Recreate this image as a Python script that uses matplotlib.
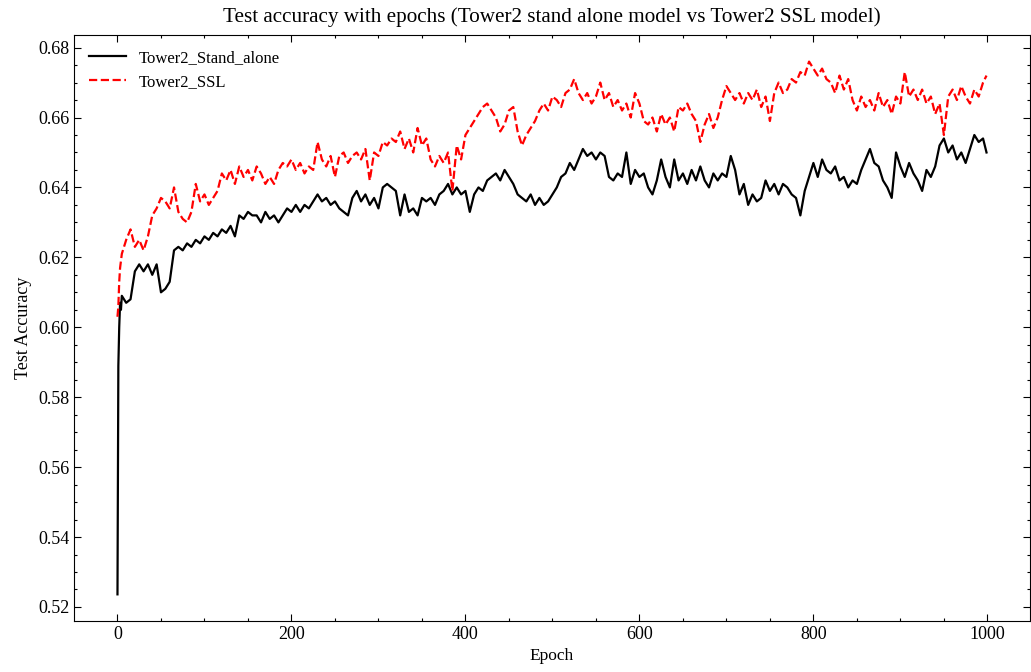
import matplotlib
matplotlib.use("Agg")
import matplotlib.pyplot as plt
from matplotlib.ticker import MultipleLocator

epochs = [0, 1, 2, 3, 4] + list(range(5, 1000, 5)) + [999]

stand_alone = [
    0.5236, 0.589, 0.600, 0.607, 0.605,
    0.609, 0.607, 0.608, 0.616, 0.618, 0.616, 0.618, 0.615, 0.618, 0.610,
    0.611, 0.613, 0.622, 0.623, 0.622, 0.624, 0.623, 0.625, 0.624, 0.626,
    0.625, 0.627, 0.626, 0.628, 0.627, 0.629, 0.626, 0.632, 0.631, 0.633,
    0.632, 0.632, 0.630, 0.633, 0.631, 0.632, 0.630, 0.632, 0.634, 0.633,
    0.635, 0.633, 0.635, 0.634, 0.636, 0.638, 0.636, 0.637, 0.635, 0.636,
    0.634, 0.633, 0.632, 0.637, 0.639, 0.636, 0.638, 0.635, 0.637, 0.634,
    0.640, 0.641, 0.640, 0.639, 0.632, 0.638, 0.633, 0.634, 0.632, 0.637,
    0.636, 0.637, 0.635, 0.638, 0.639, 0.641, 0.638, 0.640, 0.638, 0.639,
    0.633, 0.638, 0.640, 0.639, 0.642, 0.643, 0.644, 0.642, 0.645, 0.643,
    0.641, 0.638, 0.637, 0.636, 0.638, 0.635, 0.637, 0.635, 0.636, 0.638,
    0.640, 0.643, 0.644, 0.647, 0.645, 0.648, 0.651, 0.649, 0.650, 0.648,
    0.650, 0.649, 0.643, 0.642, 0.644, 0.643, 0.650, 0.641, 0.645, 0.643,
    0.644, 0.640, 0.638, 0.642, 0.648, 0.643, 0.640, 0.648, 0.642, 0.644,
    0.641, 0.645, 0.642, 0.646, 0.642, 0.640, 0.644, 0.642, 0.644, 0.643,
    0.649, 0.645, 0.638, 0.641, 0.635, 0.638, 0.636, 0.637, 0.642, 0.639,
    0.641, 0.638, 0.641, 0.640, 0.638, 0.637, 0.632, 0.639, 0.643, 0.647,
    0.643, 0.648, 0.645, 0.644, 0.646, 0.642, 0.643, 0.640, 0.642, 0.641,
    0.645, 0.648, 0.651, 0.647, 0.646, 0.642, 0.640, 0.637, 0.650, 0.646,
    0.643, 0.647, 0.644, 0.642, 0.639, 0.645, 0.643, 0.646, 0.652, 0.654,
    0.650, 0.652, 0.648, 0.650, 0.647, 0.651, 0.655, 0.653, 0.654, 0.650,
]

ssl = [
    0.603, 0.606, 0.613, 0.617, 0.619,
    0.621, 0.625, 0.628, 0.623, 0.625, 0.622, 0.626, 0.632, 0.634, 0.637,
    0.636, 0.634, 0.640, 0.633, 0.631, 0.630, 0.633, 0.641, 0.636, 0.638,
    0.635, 0.637, 0.639, 0.644, 0.642, 0.645, 0.641, 0.646, 0.643, 0.645,
    0.642, 0.646, 0.644, 0.641, 0.643, 0.641, 0.645, 0.647, 0.646, 0.648,
    0.645, 0.647, 0.644, 0.646, 0.645, 0.653, 0.648, 0.646, 0.649, 0.643,
    0.649, 0.650, 0.647, 0.649, 0.650, 0.648, 0.651, 0.642, 0.650, 0.649,
    0.653, 0.652, 0.654, 0.653, 0.656, 0.651, 0.654, 0.650, 0.657, 0.652,
    0.654, 0.648, 0.646, 0.649, 0.647, 0.650, 0.639, 0.652, 0.648, 0.655,
    0.657, 0.659, 0.661, 0.663, 0.664, 0.662, 0.660, 0.656, 0.658, 0.662,
    0.663, 0.656, 0.652, 0.655, 0.657, 0.659, 0.662, 0.664, 0.662, 0.666,
    0.665, 0.663, 0.667, 0.668, 0.671, 0.667, 0.665, 0.667, 0.664, 0.666,
    0.670, 0.665, 0.667, 0.663, 0.665, 0.662, 0.664, 0.660, 0.667, 0.664,
    0.659, 0.658, 0.660, 0.656, 0.661, 0.658, 0.660, 0.656, 0.663, 0.662,
    0.664, 0.661, 0.659, 0.653, 0.658, 0.661, 0.657, 0.660, 0.665, 0.669,
    0.667, 0.665, 0.667, 0.664, 0.667, 0.665, 0.668, 0.663, 0.666, 0.659,
    0.667, 0.670, 0.667, 0.668, 0.671, 0.670, 0.673, 0.672, 0.676, 0.674,
    0.672, 0.674, 0.671, 0.670, 0.667, 0.672, 0.668, 0.671, 0.665, 0.662,
    0.666, 0.663, 0.665, 0.662, 0.667, 0.663, 0.665, 0.661, 0.666, 0.664,
    0.673, 0.666, 0.668, 0.665, 0.668, 0.664, 0.666, 0.661, 0.664, 0.655,
    0.666, 0.668, 0.665, 0.669, 0.666, 0.664, 0.668, 0.666, 0.670, 0.672,
]

labels = ["Tower2_Stand_alone", "Tower2_SSL"]
title = "Test accuracy with epochs (Tower2 stand alone model vs Tower2 SSL model)"

plt.rcParams["font.family"] = ["Liberation Serif", "DejaVu Serif"]

fig = plt.figure(figsize=(10.31, 6.72), dpi=100)
ax = fig.add_axes([0.0718, 0.0759, 0.9272, 0.8721])

ax.plot(epochs, stand_alone, color="black", linestyle="-", linewidth=1.6, label=labels[0])
ax.plot(epochs, ssl, color="red", linestyle="--", linewidth=1.6, label=labels[1])

ax.set_title(title, fontsize=15.2, pad=9.5)
ax.set_xlabel("Epoch", fontsize=12.5)
ax.set_ylabel("Test Accuracy", fontsize=13)

ax.xaxis.set_major_locator(MultipleLocator(200))
ax.xaxis.set_minor_locator(MultipleLocator(50))
ax.yaxis.set_major_locator(MultipleLocator(0.02))
ax.yaxis.set_minor_locator(MultipleLocator(0.005))
ax.yaxis.set_major_formatter(matplotlib.ticker.FormatStrFormatter("%.2f"))
ax.tick_params(which="both", direction="in", top=True, right=True, labelsize=13)
ax.tick_params(which="major", length=5, width=0.8)
ax.tick_params(which="minor", length=2.5, width=0.8)
for s in ax.spines.values():
    s.set_linewidth(0.8)

ax.legend(loc="upper left", frameon=False, fontsize=12, handlelength=2.2)

fig.savefig("out.png", dpi=100)
